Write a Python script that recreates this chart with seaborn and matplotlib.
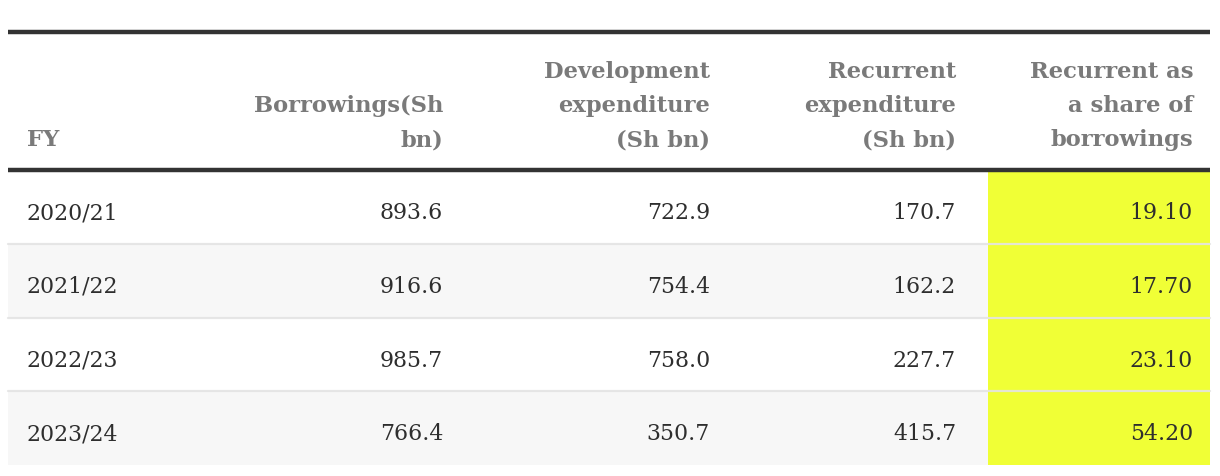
import matplotlib
matplotlib.use("Agg")
import matplotlib.pyplot as plt
import seaborn as sns

# ---- data ----
fiscal_years = ["2020/21", "2021/22", "2022/23", "2023/24"]
borrowings = [893.6, 916.6, 985.7, 766.4]
development_exp = [722.9, 754.4, 758.0, 350.7]
recurrent_exp = [170.7, 162.2, 227.7, 415.7]
recurrent_share = [19.10, 17.70, 23.10, 54.20]
headers = [
    ["FY"],
    ["Borrowings(Sh", "bn)"],
    ["Development", "expenditure", "(Sh bn)"],
    ["Recurrent", "expenditure", "(Sh bn)"],
    ["Recurrent as", "a share of", "borrowings"],
]
formats = ["{}", "{:.1f}", "{:.1f}", "{:.1f}", "{:.2f}"]

# ---- style ----
sns.set_theme(style="white")
plt.rcParams["font.family"] = ["DejaVu Serif"]

W, H = 1220, 476
fig = plt.figure(figsize=(W / 100, H / 100), dpi=100)
ax = fig.add_axes([0, 0, 1, 1])
ax.set_xlim(0, W)
ax.set_ylim(H, 0)
ax.axis("off")

left, right = 8, 1210
header_bottom = 170
row_h = 73.8
col_anchor = [27, 443, 710, 956, 1193]
col_ha = ["left", "right", "right", "right", "right"]
hl_left = 988

header_color = "#7a7a7a"
body_color = "#2e2e2e"
header_fs = 16.3
body_fs = 15.8

# row backgrounds
for i in range(len(fiscal_years)):
    y0 = header_bottom + i * row_h
    if i % 2 == 1:
        ax.fill_between([left, right], y0, y0 + row_h, color="#f7f7f7", lw=0, zorder=0)
# highlight column
n = len(fiscal_years)
ax.fill_between([hl_left, right], header_bottom, header_bottom + n * row_h,
                color="#f0ff36", lw=0, zorder=1)
# row separators
for i in range(1, n):
    y = header_bottom + i * row_h
    ax.plot([left, right], [y, y], color="#e4e4e4", lw=1.6, zorder=2, alpha=0.9)

# heavy rules
ax.plot([left, right], [32, 32], color="#333333", lw=3.2, solid_capstyle="butt", zorder=3)
ax.plot([left, right], [header_bottom, header_bottom], color="#333333", lw=3.2,
        solid_capstyle="butt", zorder=3)

# headers
baselines = [78, 112, 146]
for c, lines in enumerate(headers):
    start = 3 - len(lines)
    for k, line in enumerate(lines):
        ax.text(col_anchor[c], baselines[start + k], line, ha=col_ha[c], va="baseline",
                fontsize=header_fs, fontweight="bold", color=header_color, zorder=4)

# body
columns = [fiscal_years, borrowings, development_exp, recurrent_exp, recurrent_share]
for i in range(n):
    base = 219 + i * row_h
    for c, col in enumerate(columns):
        ax.text(col_anchor[c], base, formats[c].format(col[i]), ha=col_ha[c], va="baseline",
                fontsize=body_fs, color=body_color, zorder=4)

fig.savefig("out.png", dpi=100, facecolor="white")
